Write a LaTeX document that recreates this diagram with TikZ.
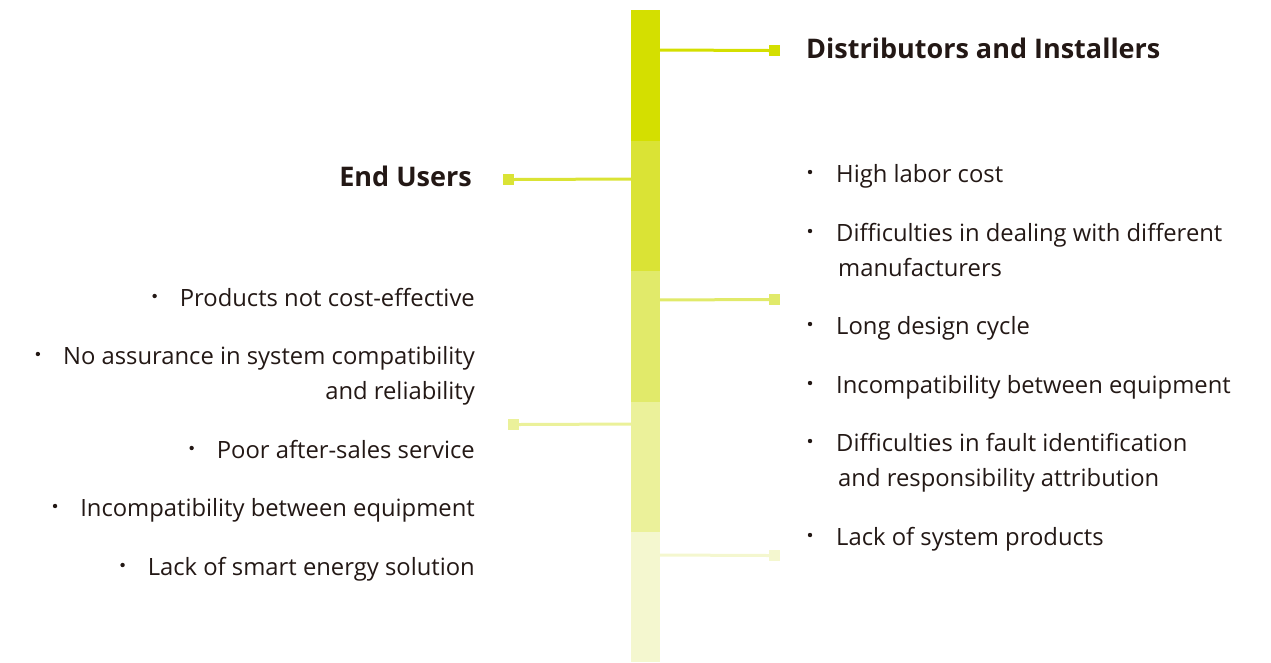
\documentclass[tikz,border=0pt]{standalone}
\usepackage{fontspec}
\setmainfont{Open Sans}
\definecolor{txt}{HTML}{231815}
\definecolor{cA}{HTML}{D4DF00}
\definecolor{cB}{HTML}{DAE335}
\definecolor{cC}{HTML}{E1EA6A}
\definecolor{cD}{HTML}{EBF19A}
\definecolor{cE}{HTML}{F4F7CF}
\tikzset{
  item/.style={inner sep=0pt, text=txt, font=\fontsize{23.8}{28}\selectfont},
  head/.style={inner sep=0pt, text=txt, font=\fontsize{27}{32}\selectfont\bfseries},
  dot/.style={circle, fill=txt, inner sep=0pt, minimum size=4.4pt},
  sq/.style={inner sep=0pt, minimum size=11pt},
  conn/.style={line width=3pt},
}
\begin{document}
\begin{tikzpicture}[x=1pt,y=-1pt]
\useasboundingbox (0,0) rectangle (1271,662);
% bar segments
\fill[cA] (631,10) rectangle (660,141);
\fill[cB] (631,141) rectangle (660,271);
\fill[cC] (631,271) rectangle (660,402);
\fill[cD] (631,402) rectangle (660,532);
\fill[cE] (631,532) rectangle (660,662);
\coordinate (b1) at (660,50);
\coordinate (b2) at (635,179);
\coordinate (b3) at (657,300);
\coordinate (b4) at (636,424);
\coordinate (b5) at (657,555);
% squares
\node[sq, fill=cA] (s1) at (774.5,50.5) {};
\node[sq, fill=cB] (s2) at (508,179.5) {};
\node[sq, fill=cC] (s3) at (774.5,299.5) {};
\node[sq, fill=cD] (s4) at (513,424.5) {};
\node[sq, fill=cE] (s5) at (774.5,555.5) {};
\draw[conn, cA] (b1) -- (s1.west);
\draw[conn, cB] (b2) -- (s2.east);
\draw[conn, cC] (b3) -- (s3.west);
\draw[conn, cD] (b4) -- (s4.east);
\draw[conn, cE] (b5) -- (s5.west);
% headings
\node[head, anchor=base west] (h1) at (806,58) {Distributors and Installers};
\node[head, anchor=base east] (h2) at (472,186) {End Users};
% right items
\node[dot] (rd1) at (810,172) {};
\node[item, anchor=base west] (r1) at (836,182) {High labor cost};
\node[dot] (rd2) at (810,231) {};
\node[item, anchor=base west] (r2) at (836,241) {Difficulties in dealing with different};
\node[item, anchor=base west] (r2b) at (838,276) {manufacturers};
\node[dot] (rd3) at (810,324) {};
\node[item, anchor=base west] (r3) at (836,334) {Long design cycle};
\node[dot] (rd4) at (810,383) {};
\node[item, anchor=base west] (r4) at (836,393) {Incompatibility between equipment};
\node[dot] (rd5) at (810,441) {};
\node[item, anchor=base west] (r5) at (836,451) {Difficulties in fault identification};
\node[item, anchor=base west] (r5b) at (838,486) {and responsibility attribution};
\node[dot] (rd6) at (810,535) {};
\node[item, anchor=base west] (r6) at (836,545) {Lack of system products};
% left items
\node[item, anchor=base east] (l1) at (475,306) {Products not cost-effective};
\node[dot] (ld1) at ([xshift=-25pt,yshift=10pt]l1.base west) {};
\node[item, anchor=base east] (l2) at (475,364) {No assurance in system compatibility};
\node[dot] (ld2) at ([xshift=-25pt,yshift=10pt]l2.base west) {};
\node[item, anchor=base east] (l2b) at (475,399) {and reliability};
\node[item, anchor=base east] (l3) at (475,458) {Poor after-sales service};
\node[dot] (ld3) at ([xshift=-25pt,yshift=10pt]l3.base west) {};
\node[item, anchor=base east] (l4) at (475,516) {Incompatibility between equipment};
\node[dot] (ld4) at ([xshift=-25pt,yshift=10pt]l4.base west) {};
\node[item, anchor=base east] (l5) at (475,575) {Lack of smart energy solution};
\node[dot] (ld5) at ([xshift=-25pt,yshift=10pt]l5.base west) {};
\end{tikzpicture}
\end{document}
